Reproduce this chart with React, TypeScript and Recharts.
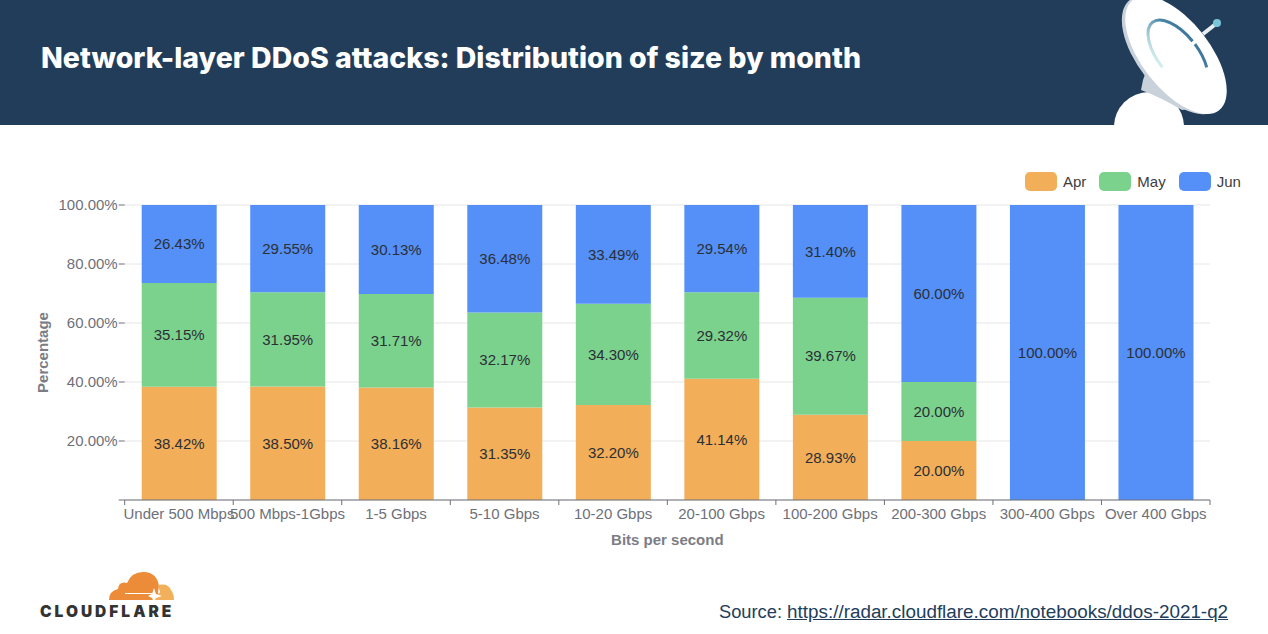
import { BarChart, Bar, XAxis, YAxis, CartesianGrid, LabelList, Legend } from "recharts";

const categories = [
  "Under 500 Mbps",
  "500 Mbps-1Gbps",
  "1-5 Gbps",
  "5-10 Gbps",
  "10-20 Gbps",
  "20-100 Gbps",
  "100-200 Gbps",
  "200-300 Gbps",
  "300-400 Gbps",
  "Over 400 Gbps",
];
const apr = [38.42, 38.5, 38.16, 31.35, 32.2, 41.14, 28.93, 20, 0, 0];
const may = [35.15, 31.95, 31.71, 32.17, 34.3, 29.32, 39.67, 20, 0, 0];
const jun = [26.43, 29.55, 30.13, 36.48, 33.49, 29.54, 31.4, 60, 100, 100];
const yTicks = [0, 20, 40, 60, 80, 100];

const data = categories.map((name, i) => ({ name, Apr: apr[i], May: may[i], Jun: jun[i] }));

const FONT = '"Liberation Sans", Arial, sans-serif';
const AXIS_GREY = "#6e7079";
const LABEL_GREY = "#7b7d85";
const ORANGE = "#f2ae58";
const GREEN = "#7bd28d";
const BLUE = "#5490f7";
const NAVY = "#223d5a";
const BAND = 108.53;

const pct = (v: number) => (v ? `${v.toFixed(2)}%` : "");

function XTick({ x, y, payload, index }: any) {
  const left = x - BAND / 2;
  return (
    <g>
      <line x1={left} x2={left} y1={500} y2={505} stroke={AXIS_GREY} />
      {index === categories.length - 1 && (
        <line x1={left + BAND} x2={left + BAND} y1={500} y2={505} stroke={AXIS_GREY} />
      )}
      <text x={x} y={y + 11} textAnchor="middle" fontSize={15} fill={AXIS_GREY} fontFamily={FONT}>
        {payload.value}
      </text>
    </g>
  );
}

function LegendRow({ payload }: any) {
  return (
    <div style={{ display: "flex", fontFamily: FONT, fontSize: 15, color: "#3d3d3d" }}>
      {(payload || []).map((p: any) => (
        <div key={p.value} style={{ display: "flex", alignItems: "center", marginRight: 13 }}>
          <span style={{ width: 32, height: 19, borderRadius: 5, background: p.color, marginRight: 6 }} />
          {p.value}
        </div>
      ))}
    </div>
  );
}

function Dish() {
  return (
    <svg width={168} height={125} viewBox="1100 0 168 125" style={{ position: "absolute", left: 1100, top: 0 }}>
      <defs>
        <linearGradient id="ring" gradientUnits="userSpaceOnUse" x1="0" y1="18" x2="0" y2="76">
          <stop offset="0" stopColor="#2f6191" />
          <stop offset="0.5" stopColor="#4a86a8" />
          <stop offset="1" stopColor="#d5f0ee" />
        </linearGradient>
      </defs>
      <circle cx={1149} cy={127} r={35} fill="#fff" />
      <path d="M1143 80 L1150 60 L1195 108 L1182 110 Q1160 97 1141 90 Z" fill="#c9d2da" />
      <ellipse cx={1173} cy={55} rx={70} ry={35} transform="rotate(52 1173 55)" fill="#c9d2da" />
      <ellipse cx={1176} cy={55} rx={70} ry={34} transform="rotate(52 1176 55)" fill="#fff" />
      <line x1={1203} y1={34} x2={1217} y2={23} stroke="#e6eef2" strokeWidth={4} />
      <circle cx={1217} cy={23} r={4} fill="#7cc4d8" />
      <ellipse
        cx={1178}
        cy={55}
        rx={41.5}
        ry={20}
        transform="rotate(52 1178 55)"
        fill="none"
        stroke="url(#ring)"
        strokeWidth={3}
        pathLength={100}
        strokeDasharray="49 2 13 36"
        strokeDashoffset={-25}
      />
    </svg>
  );
}

function Logo() {
  return (
    <div style={{ position: "absolute", left: 40, top: 570, width: 135, height: 52 }}>
      <svg width={135} height={32} viewBox="40 570 135 32" style={{ position: "absolute", left: 0, top: 0 }}>
        <path
          d="M109 600 Q109 591 118 589 Q119 581 127 583 Q132 571 145 572 Q157 573 159 586 L158 592 L160 600 Z"
          fill="#ec8c38"
        />
        <path d="M158 585 Q168 583 171 590 Q174 594 174 600 L155 600 Q158 595 160 592 Z" fill="#f3b05a" />
        <path d="M125 593.5 L152 593.5" stroke="#fff" strokeWidth={1} />
        <path d="M154 588 L156 594 L162 596 L156 598 L154 602 L152 598 L148 596 L152 594 Z" fill="#fff" />
      </svg>
      <div
        style={{
          position: "absolute",
          left: 0,
          top: 33,
          fontFamily: "Inter, sans-serif",
          fontWeight: 900,
          fontSize: 15.5,
          letterSpacing: 3,
          lineHeight: "18px",
          color: "#333",
        }}
      >
        CLOUDFLARE
      </div>
    </div>
  );
}

export default function App() {
  return (
    <div style={{ position: "absolute", left: 0, top: 0, width: 1268, height: 634, background: "#fff", overflow: "hidden" }}>
      <div style={{ position: "absolute", left: 0, top: 0, width: 1268, height: 125, background: NAVY }} />
      <div
        style={{
          position: "absolute",
          left: 41,
          top: 38,
          fontFamily: "Inter, sans-serif",
          fontWeight: 800,
          fontSize: 28.5,
          lineHeight: "40px",
          color: "#fff",
          whiteSpace: "nowrap",
        }}
      >
        Network-layer DDoS attacks: Distribution of size by month
      </div>
      <Dish />

      <div style={{ position: "absolute", left: 0, top: 0 }}>
        <BarChart
          width={1268}
          height={634}
          data={data}
          margin={{ top: 205, right: 58, bottom: 84, left: 0 }}
          barCategoryGap={0}
        >
          <CartesianGrid vertical={false} stroke="#e6e6e6" />
          <XAxis
            dataKey="name"
            interval={0}
            height={50}
            tick={<XTick />}
            tickLine={false}
            axisLine={{ stroke: AXIS_GREY }}
            label={{
              value: "Bits per second",
              position: "insideBottom",
              offset: 5,
              style: { fontFamily: FONT, fontSize: 15, fontWeight: 700, fill: LABEL_GREY },
            }}
          />
          <YAxis
            width={124.7}
            domain={[0, 100]}
            ticks={yTicks}
            tickFormatter={pct}
            axisLine={false}
            tickSize={6}
            tickMargin={1}
            tickLine={{ stroke: AXIS_GREY }}
            tick={{ fontFamily: FONT, fontSize: 15, fill: AXIS_GREY }}
            label={{
              value: "Percentage",
              angle: -90,
              position: "insideLeft",
              offset: 43,
              style: { fontFamily: FONT, fontSize: 15, fontWeight: 700, fill: LABEL_GREY, textAnchor: "middle" },
            }}
          />
          <Legend
            layout="horizontal"
            verticalAlign="middle"
            align="center"
            itemSorter={null}
            content={<LegendRow />}
            wrapperStyle={{ top: 172, left: 1025, right: "auto", bottom: "auto", width: 240 }}
          />
          {(["Apr", "May", "Jun"] as const).map((key, i) => (
            <Bar key={key} dataKey={key} stackId="a" barSize={75} fill={[ORANGE, GREEN, BLUE][i]} isAnimationActive={false}>
              <LabelList
                dataKey={key}
                position="center"
                formatter={pct}
                style={{ fontFamily: FONT, fontSize: 15, fill: "#2b2f36" }}
              />
            </Bar>
          ))}
        </BarChart>
      </div>

      <Logo />
      <div
        style={{
          position: "absolute",
          left: 719,
          top: 601,
          fontFamily: FONT,
          fontSize: 18.3,
          lineHeight: "22px",
          color: NAVY,
          whiteSpace: "nowrap",
        }}
      >
        Source: <span style={{ textDecoration: "underline", fontSize: 18.85 }}>https://radar.cloudflare.com/notebooks/ddos-2021-q2</span>
      </div>
    </div>
  );
}
